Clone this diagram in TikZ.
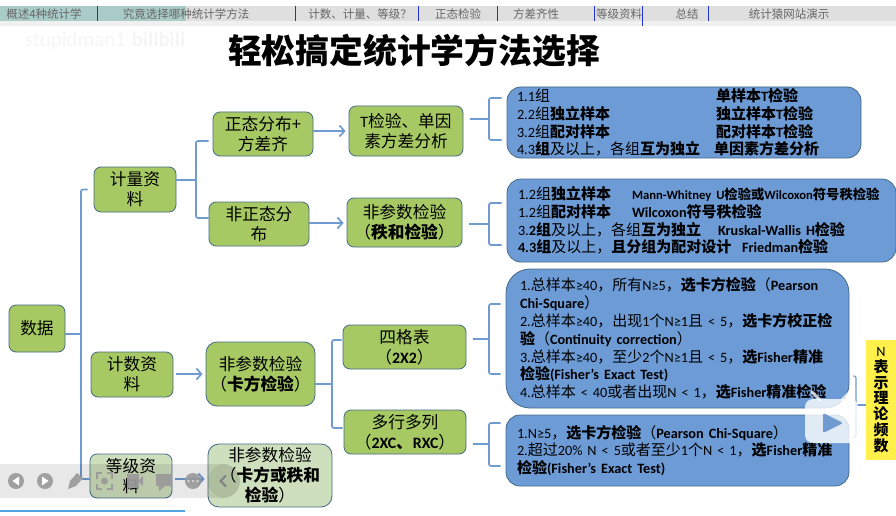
\documentclass[tikz,border=0pt]{standalone}
\usepackage{fontspec}
\setmainfont{Noto Sans CJK SC}
\newfontfamily\lat[Scale=0.95]{Carlito}
\newcommand{\la}[1]{{\lat #1}}
\usetikzlibrary{arrows.meta, calc}
\definecolor{nodegreen}{RGB}{166, 201, 100}
\definecolor{palegreen}{RGB}{206, 223, 189}
\definecolor{edgeblue}{RGB}{70, 105, 135}
\definecolor{linkblue}{RGB}{111, 155, 209}
\definecolor{panelblue}{RGB}{108, 155, 214}
\definecolor{notelemon}{RGB}{255, 240, 75}
\definecolor{tabgray}{RGB}{222, 223, 222}
\definecolor{tabteal}{RGB}{170, 204, 200}
\definecolor{tabline}{RGB}{35, 50, 205}
\definecolor{barblue}{RGB}{80, 166, 224}
\tikzset{
    greenbox/.style={draw=edgeblue, fill=nodegreen, line width=0.8pt, rounded corners=7pt, align=center, inner sep=0pt,
        font=\fontsize{16.7}{20}\selectfont},
    panel/.style={draw=edgeblue, fill=panelblue, line width=0.8pt, rounded corners=14pt, align=left, inner sep=0pt,
        font=\fontsize{15}{17.8}\selectfont},
    link/.style={linkblue, line width=1.7pt, rounded corners=2pt},
    linkarrow/.style={linkblue, line width=1.7pt, shorten >=3pt, -{Straight Barb[length=5pt,width=11pt]}},
    tab/.style={text=black!60, font=\fontsize{11.5}{13}\selectfont, inner sep=0pt},
    toolicon/.style={fill=black!40, opacity=0.9}
}
\begin{document}
\begin{tikzpicture}[x=1pt, y=-1pt]
    \useasboundingbox (0,0) rectangle (896,516);

    % tab bar
    \fill[black!6] (0,21) rectangle (896,26);
    \fill[tabgray] (0,6) rectangle (896,21);
    \fill[tabteal] (0,6) rectangle (186,21);
    \foreach \xa in {97,295,418,497,594,708} {
        \draw[tabline, line width=1pt] (\xa,6) -- (\xa,21);
    }
    \draw[tabline, line width=1pt] (642,6) -- (642,26);
    \node[tab] (tab1) at (44,14) {概述4种统计学};
    \node[tab] (tab2) at (186,14) {究竟选择哪种统计学方法};
    \node[tab] (tab3) at (360,14) {计数、计量、等级？};
    \node[tab] (tab4) at (458,14) {正态检验};
    \node[tab] (tab5) at (536,14) {方差齐性};
    \node[tab] (tab6) at (619,14) {等级资料};
    \node[tab] (tab7) at (687,14) {总结};
    \node[tab] (tab8) at (789,14) {统计猿网站演示};

    \node[text=black!4, font=\fontsize{22}{22}\selectfont] (mark) at (105,41) {\la{stupidman1}\hspace{6pt}\la{\textbf{bilibili}}};
    \node[font=\fontsize{33.8}{36}\selectfont\bfseries] (title) at (414,51) {轻松搞定统计学方法选择};

    % left part of the tree
    \node[greenbox, minimum width=56pt, minimum height=47pt] (root) at (37,328.5) {数据};
    \node[greenbox, minimum width=82pt, minimum height=45pt] (jiliang) at (135,189.5) {计量资\\料};
    \node[greenbox, minimum width=82pt, minimum height=45pt] (jishu) at (132,374.5) {计数资\\料};
    \node[greenbox, minimum width=82pt, minimum height=44pt, fill=palegreen] (dengji) at (131,476) {等级资\\料};

    \node[greenbox, minimum width=100pt, minimum height=44pt] (zhengtai) at (263,134) {正态分布+\\方差齐};
    \node[greenbox, minimum width=100pt, minimum height=44pt] (feizheng) at (259,224) {非正态分\\布};
    \node[greenbox, minimum width=109pt, minimum height=64pt, rounded corners=11pt] (kafang) at (260.5,374) {非参数检验\\（\textbf{卡方检验}）};
    \node[greenbox, minimum width=124pt, minimum height=63pt, rounded corners=11pt, fill=palegreen] (kahe) at (270,475.5) {非参数检验\\（\textbf{卡方或秩和}\\\textbf{检验}）};

    \node[greenbox, minimum width=114pt, minimum height=50pt] (tjianyan) at (406,131) {\la{T}检验、单因\\素方差分析};
    \node[greenbox, minimum width=115pt, minimum height=49pt] (zhihe) at (404.5,222.5) {非参数检验\\（\textbf{秩和检验}）};
    \node[greenbox, minimum width=123pt, minimum height=44pt] (sige) at (404.5,347) {四格表\\（\textbf{\la{2X2}}）};
    \node[greenbox, minimum width=122pt, minimum height=44pt] (duohang) at (405,432) {多行多列\\（\textbf{\la{2XC}、\la{RXC}}）};

    % panels on the right
    \node[panel, minimum width=354pt, minimum height=71pt, text width=334pt] (box1) at (684,122.5) {%
        \makebox[199pt][l]{\la{1.1}组}\textbf{单样本\la{T}检验}\\
        \makebox[199pt][l]{\la{2.2}组\textbf{独立样本}}\textbf{独立样本\la{T}检验}\\
        \makebox[199pt][l]{\la{3.2}组\textbf{配对样本}}\textbf{配对样本\la{T}检验}\\
        \makebox[197pt][l]{\la{4.3}\textbf{组}及以上，各组\textbf{互为独立}}\textbf{单因素方差分析}};
    \node[panel, minimum width=389pt, minimum height=83pt, text width=367pt] (box2) at (701.5,220.5) {%
        \makebox[114pt][l]{\la{1.2}组\textbf{独立样本}}\mbox{\fontsize{13.3}{17.8}\selectfont\textbf{\la{Mann-Whitney U}检验或\la{Wilcoxon}符号秩检验}}\\
        \makebox[114pt][l]{\la{1.2}组\textbf{配对样本}}\textbf{\la{Wilcoxon}符号秩检验}\\
        \makebox[200pt][l]{\la{3.}\textbf{\la{2}组}及以上，各组\textbf{互为独立}}\textbf{\la{Kruskal-Wallis H}检验}\\
        \makebox[224pt][l]{\textbf{\la{4.3}组}及以上，\textbf{且分组为配对设计}}\textbf{\la{Friedman}检验}};
    \node[panel, minimum width=343pt, minimum height=139pt, text width=315pt, rounded corners=24pt] (box3) at (677.5,338.5) {%
        \mbox{\la{1.}总样本\la{≥40}，所有\la{N≥5}，\textbf{选卡方检验}（\textbf{\la{Pearson}}}\\
        \textbf{\la{Chi-Square}}）\\
        \mbox{\la{2.}总样本\la{≥40}，出现\la{1}个\la{N≥1}且\la{ < 5}，\textbf{选卡方校正检}}\\
        \textbf{验}（\textbf{\la{Continuity correction}}）\\
        \mbox{\la{3.}总样本\la{≥40}，至少\la{2}个\la{N≥1}且\la{ < 5}，\textbf{选\la{Fisher}精准}}\\
        \textbf{检验\la{(Fisher’s Exact Test)}}\\
        \mbox{\la{4.}总样本\la{ < 40}或者出现\la{N < 1}，\textbf{选\la{Fisher}精准检验}}};
    \node[panel, minimum width=343pt, minimum height=71pt, text width=321pt] (box4) at (677.5,450.5) {%
        \mbox{\la{1.N≥5}，\textbf{选卡方检验}（\textbf{\la{Pearson Chi-Square}}）}\\
        \mbox{\la{2.}超过\la{20\% N < 5}或者至少\la{1}个\la{N < 1}，\textbf{选\la{Fisher}精准}}\\
        \textbf{检验\la{(Fisher’s Exact Test)}}};
    \node[fill=notelemon, minimum width=30pt, minimum height=120pt, align=center, inner sep=0pt,
        font=\fontsize{15}{15.8}\selectfont] (note) at (881,400) {\la{N}\\\textbf{表}\\\textbf{示}\\\textbf{理}\\\textbf{论}\\\textbf{频}\\\textbf{数}};

    % connectors
    \coordinate (rootbus) at (81,334);
    \draw[link] (root.east |- rootbus) -- (rootbus);
    \draw[link, shorten >=6pt] (rootbus) |- (jiliang.west);
    \draw[link] (rootbus) |- (dengji.west |- 0,479);

    \coordinate (jlbus) at (196,180);
    \draw[link] (jiliang.east |- jlbus) -- (jlbus);
    \draw[link, shorten >=4pt] (jlbus) |- (zhengtai.west |- 0,141);
    \draw[link] (jlbus) |- (feizheng.west |- 0,218);

    \coordinate (kfbus) at (332,384);
    \draw[link] (kafang.east |- kfbus) -- (kfbus);
    \draw[link, shorten >=1pt] (kfbus) |- (sige.west |- 0,340);
    \draw[link, shorten >=1pt] (kfbus) |- (duohang.west |- 0,428);

    \draw[linkarrow] (zhengtai.east |- 0,131) -- (tjianyan.west |- 0,131);
    \draw[linkarrow] (feizheng.east |- 0,223) -- (zhihe.west |- 0,223);
    \draw[linkarrow, shorten <=3pt] (jishu.east |- 0,374) -- (kafang.west |- 0,374);
    \draw[linkarrow, shorten <=3pt] (dengji.east |- 0,479) -- (kahe.west |- 0,479);

    \foreach \src/\dst/\yc/\ya/\yb in {tjianyan/box1/119/98/140, zhihe/box2/224/203/245, sige/box3/339/304/374, duohang/box4/444/423/466} {
        \coordinate (bus) at (489,\yc);
        \draw[link, shorten <=7pt] (\src.east |- bus) -- (bus);
        \draw[link, shorten <=5pt, shorten >=5pt] (\dst.west |- 0,\ya) -- (bus |- 0,\ya) -- (bus |- 0,\yb) -- (\dst.west |- 0,\yb);
    }

    \coordinate (notebus) at (856,405);
    \draw[link, line width=1.2pt] (notebus) -- (note.west |- notebus);
    \draw[link, line width=1.2pt, shorten <=4pt, shorten >=4pt] (box3.east |- 0,376) -- (notebus |- 0,376) -- (notebus |- 0,437) -- (box4.east |- 0,437);

    % player controls on top
    \fill[barblue] (0,509.5) rectangle (185,512);
    \fill[black, opacity=0.09] (0,464) [rounded corners=17pt] -- (240,464) -- (240,498) [sharp corners] -- (0,498) -- cycle;
    \fill[black, opacity=0.06, rounded corners=17pt] (208,464) rectangle (240,498);
    \fill[toolicon] (16,481) circle (8);
    \fill[white] (19,476.5) -- (19,485.5) -- (12.5,481) -- cycle;
    \fill[toolicon] (45,481) circle (8);
    \fill[white] (42,476.5) -- (42,485.5) -- (48.5,481) -- cycle;
    \fill[toolicon] (68,489) -- (70,481) -- (77,473) -- (83,478) -- (76,486) -- cycle;
    \draw[black!40, line width=1.4pt, opacity=0.9] (97,479) -- (97,473) -- (102,473) (107,473) -- (112,473) -- (112,479) (112,484) -- (112,489) -- (107,489) (102,489) -- (97,489) -- (97,484);
    \fill[toolicon] (104.5,481) circle (3.5);
    \fill[toolicon] (127,474) rectangle (139,488);
    \fill[toolicon] (139,480) -- (143,476) -- (143,486) -- (139,482) -- cycle;
    \fill[toolicon] (156,474) rectangle (171,486) (159,486) -- (165,486) -- (159,491) -- cycle;
    \fill[toolicon] (193,481) circle (8);
    \foreach \xa in {188.5,193,197.5} {
        \fill[white, opacity=0.7] (\xa,481) circle (1.1);
    }
    \draw[black!50, line width=1.8pt] (226,475.5) -- (220.5,481) -- (226,486.5);

    % video badge
    \draw[white, line width=3pt, opacity=0.75, line cap=round] (820,400) -- (812,392) (842,400) -- (850,392);
    \fill[white, opacity=0.8, rounded corners=8pt] (805,399) rectangle (858,443);
    \fill[linkblue, rounded corners=2pt] (823,413) -- (843,423) -- (823,433) -- cycle;
\end{tikzpicture}
\end{document}
